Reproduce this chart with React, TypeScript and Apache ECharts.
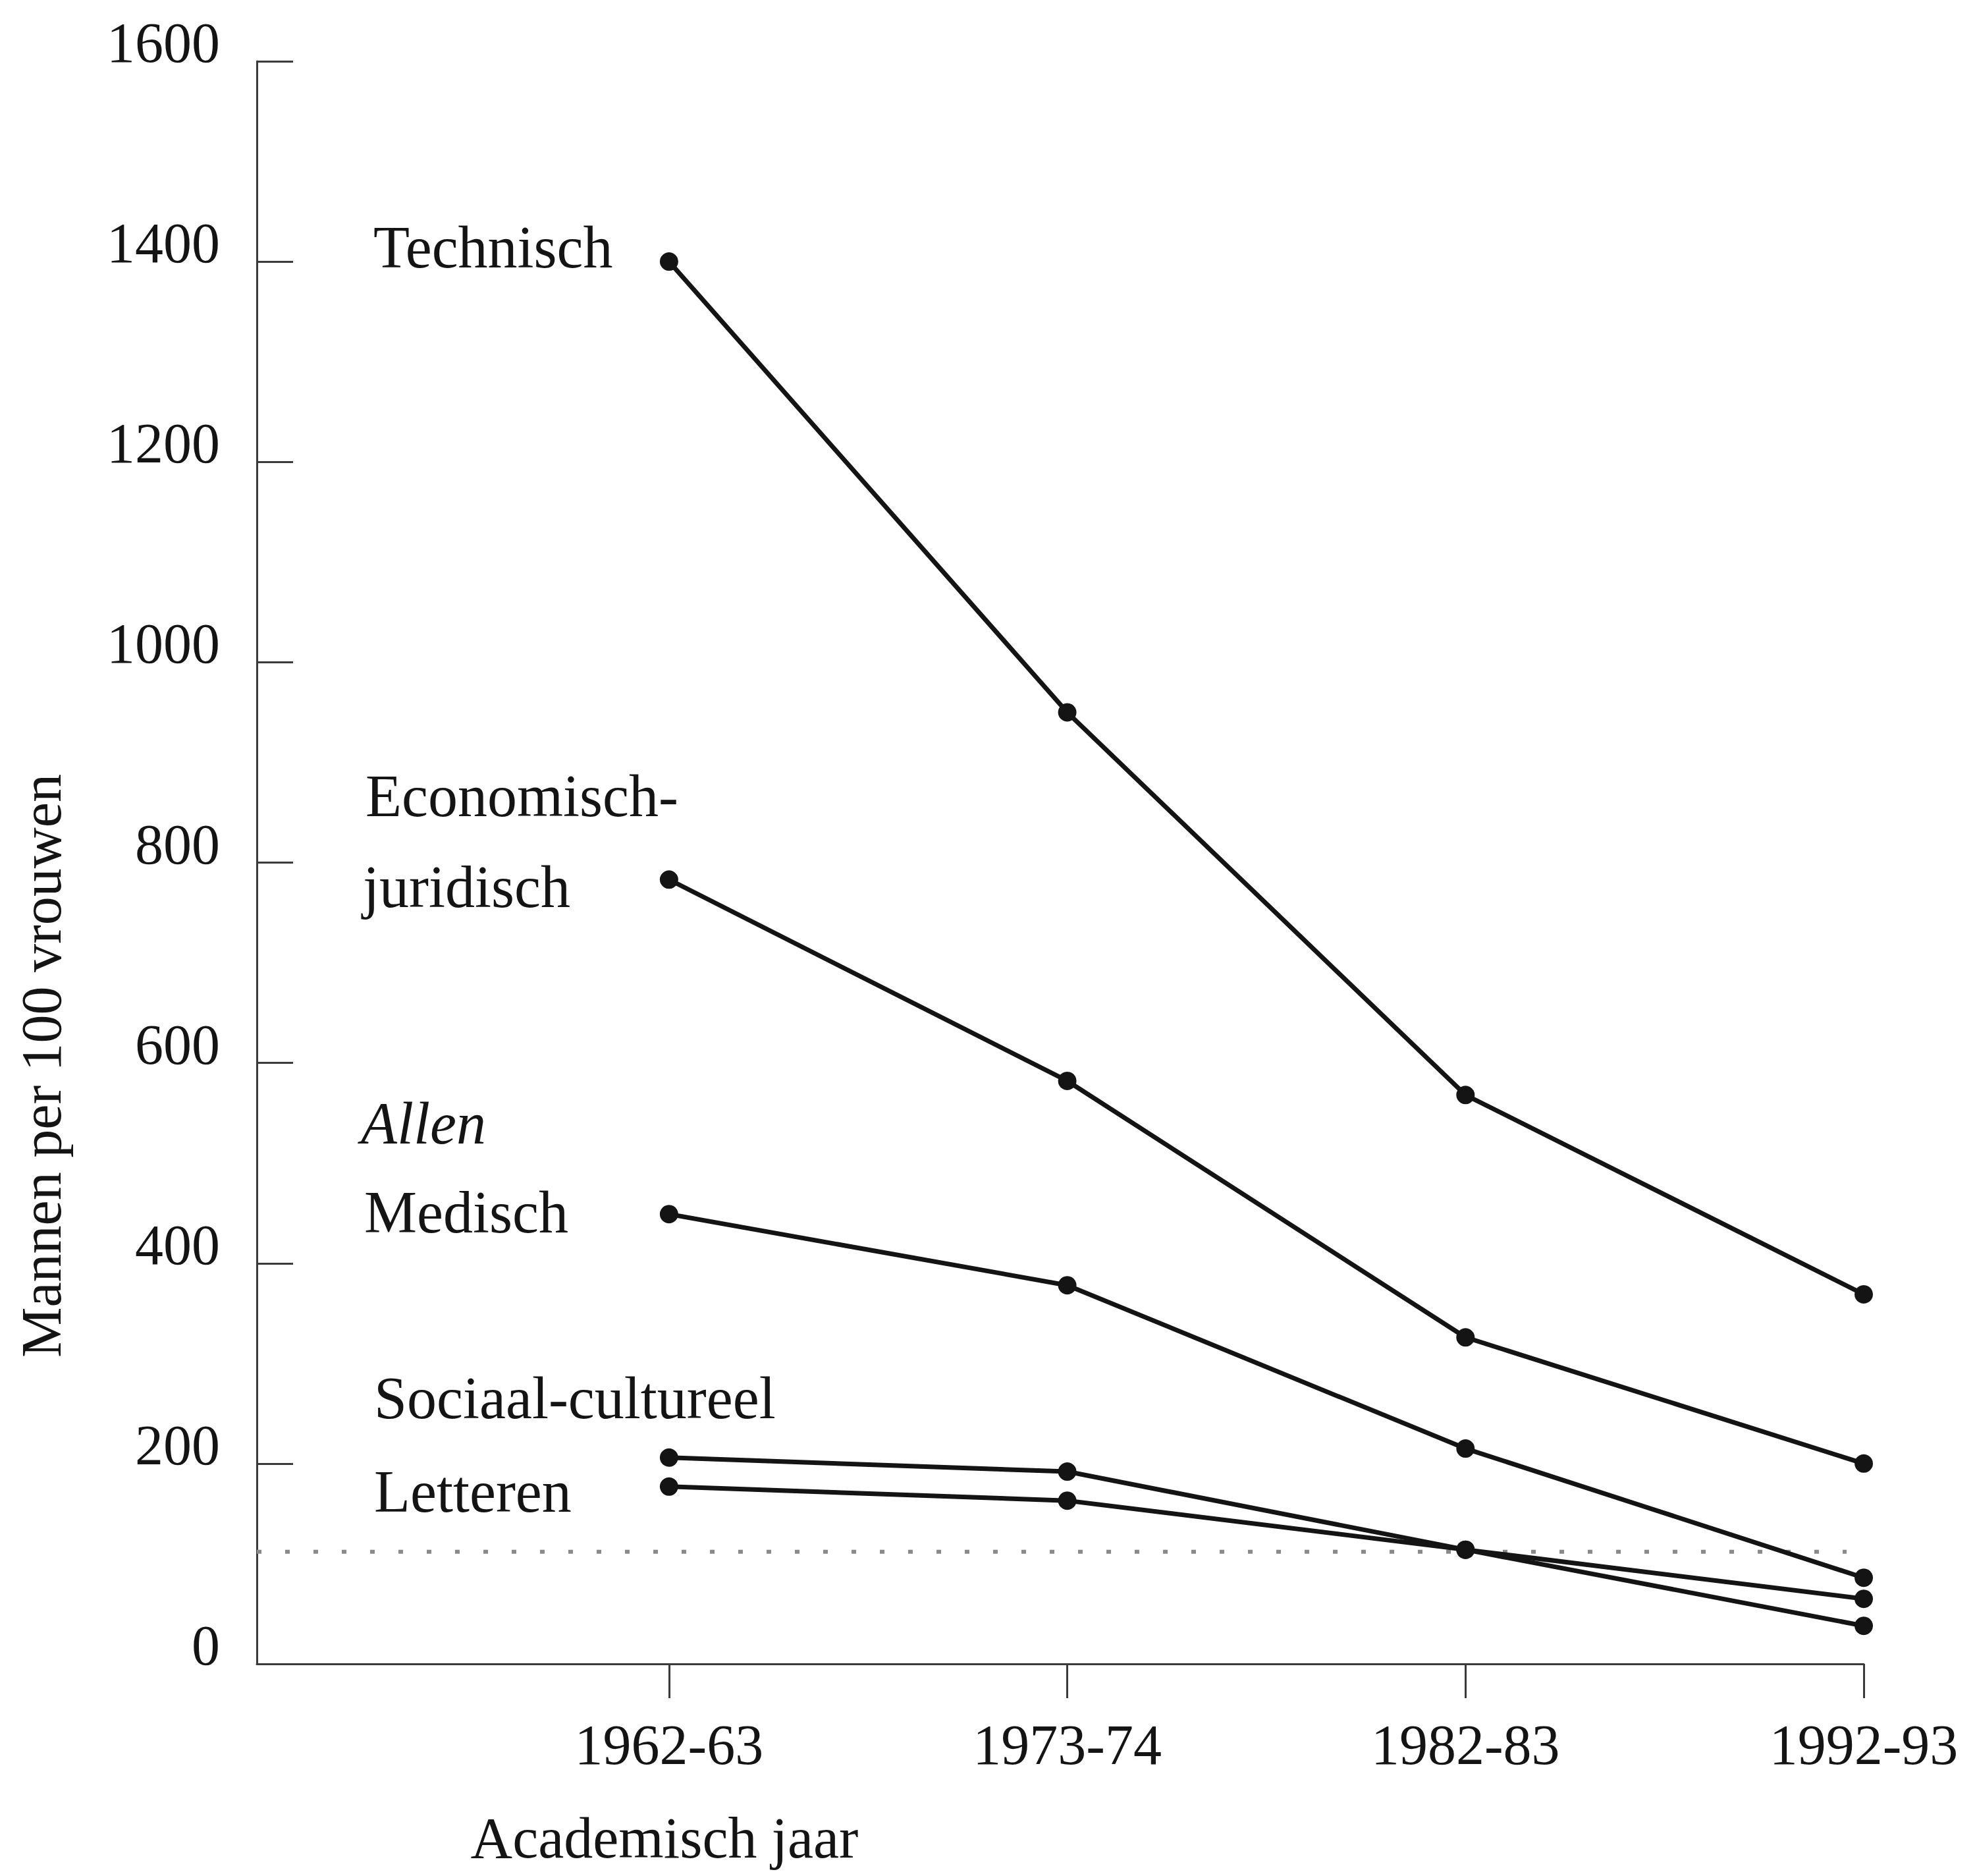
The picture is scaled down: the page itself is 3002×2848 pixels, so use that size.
import React, { useEffect, useRef } from "react";
import * as echarts from "echarts";

// Academic years (x categories)
const years = ["1962-63", "1973-74", "1982-83", "1992-93"];

// Men per 100 women
const technisch = [1400, 950, 568, 369];
const economischJuridisch = [783, 582, 326, 200];
const medisch = [449, 378, 215, 86];
const sociaalCultureel = [206, 192, 114, 65];
const letteren = [177, 163, 114, 38];

// Dotted reference level
const referenceLevel = 112;
const referenceFrom = -1.035;
const referenceTo = 2.957;

// Y axis ticks
const yMin = 0;
const yMax = 1600;
const yStep = 200;

const seriesList = [
  { name: "Technisch", values: technisch },
  { name: "Economisch-juridisch", values: economischJuridisch },
  { name: "Medisch", values: medisch },
  { name: "Sociaal-cultureel", values: sociaalCultureel },
  { name: "Letteren", values: letteren },
];

const FONT = "'Liberation Serif', 'DejaVu Serif', serif";
const INK = "#141414";
const AXIS = "#3a3a3a";

export default function App() {
  const ref = useRef<HTMLDivElement>(null);

  useEffect(() => {
    if (!ref.current) return;
    const chart = echarts.init(ref.current, undefined, { renderer: "svg" });

    const labelStyle = (text: string, x: number, y: number, italic = false) => ({
      type: "text",
      x,
      y,
      style: {
        text,
        font: `${italic ? "italic " : ""}90px ${FONT}`,
        fill: INK,
        align: "left",
        verticalAlign: "middle",
      },
    });

    const option: any = {
      animation: false,
      backgroundColor: "#ffffff",
      grid: { left: 390, right: 172, top: 93, bottom: 322, containLabel: false },
      xAxis: {
        type: "value",
        min: referenceFrom,
        max: years.length - 1,
        splitLine: { show: false },
        axisLine: { show: true, onZero: false, lineStyle: { color: AXIS, width: 3 } },
        axisTick: {
          show: true,
          inside: false,
          length: 52,
          lineStyle: { color: AXIS, width: 3 },
          customValues: years.map((_, i) => i),
        },
        axisLabel: {
          show: true,
          customValues: years.map((_, i) => i),
          formatter: (v: number) => years[Math.round(v)] ?? "",
          fontFamily: FONT,
          fontSize: 86,
          color: INK,
          margin: 80,
        },
      },
      yAxis: {
        type: "value",
        min: yMin,
        max: yMax,
        interval: yStep,
        splitLine: { show: false },
        axisLine: { show: true, onZero: false, lineStyle: { color: AXIS, width: 3 } },
        axisTick: { show: true, inside: true, length: 55, lineStyle: { color: AXIS, width: 3 } },
        axisLabel: {
          fontFamily: FONT,
          fontSize: 86,
          color: INK,
          margin: 56,
          formatter: (v: number) => String(v),
          verticalAlign: "bottom",
          lineHeight: 56,
        },
      },
      series: [
        {
          type: "line",
          name: "reference",
          data: [
            [referenceFrom, referenceLevel],
            [referenceTo, referenceLevel],
          ],
          symbol: "none",
          silent: true,
          z: 1,
          lineStyle: { color: "#8a8a8a", width: 6, type: [7, 36] },
        },
        ...seriesList.map((s) => ({
          type: "line",
          name: s.name,
          data: s.values.map((v, i) => [i, v]),
          symbol: "circle",
          symbolSize: 28,
          z: 3,
          itemStyle: { color: INK },
          lineStyle: { color: INK, width: 7 },
        })),
      ],
      graphic: [
        labelStyle("Technisch", 567, 375),
        labelStyle("Economisch-", 555, 1208),
        labelStyle("juridisch", 551, 1346),
        labelStyle("Allen", 548, 1705, true),
        labelStyle("Medisch", 553, 1840),
        labelStyle("Sociaal-cultureel", 568, 2122),
        labelStyle("Letteren", 568, 2264),
        {
          type: "text",
          x: 1009,
          y: 2790,
          style: {
            text: "Academisch jaar",
            font: `88px ${FONT}`,
            fill: INK,
            align: "center",
            verticalAlign: "middle",
          },
        },
        {
          type: "text",
          x: 63,
          y: 1618,
          rotation: Math.PI / 2,
          style: {
            text: "Mannen per 100 vrouwen",
            font: `86px ${FONT}`,
            fill: INK,
            align: "center",
            verticalAlign: "middle",
          },
        },
      ],
    };

    chart.setOption(option);
    return () => chart.dispose();
  }, []);

  return (
    <div
      ref={ref}
      style={{ position: "fixed", left: 0, top: 0, width: 3002, height: 2848, background: "#fff" }}
    />
  );
}
